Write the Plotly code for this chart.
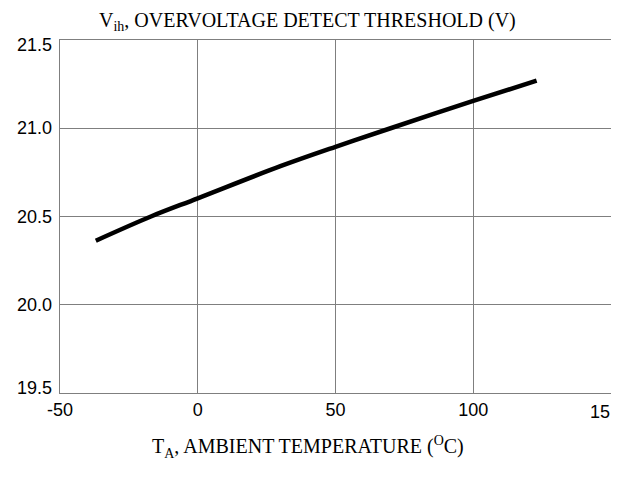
import plotly.graph_objects as go

temps = [-37, -17, 0, 30, 50, 70, 100, 123]
vih = [20.363, 20.50, 20.603, 20.785, 20.895, 21.00, 21.155, 21.27]

x_ticks = [-50, 0, 50, 100, 150]
x_tick_text = ["-50", "0", "50", "100", ""]
x_clipped_label = "15"
y_ticks = [19.5, 20.0, 20.5, 21.0, 21.5]
y_tick_text = ["19.5", "20.0", "20.5", "21.0", "21.5"]

fig = go.Figure()
fig.add_trace(go.Scatter(x=temps, y=vih, mode="lines",
                         line=dict(color="black", width=4.5, shape="spline", smoothing=1.0),
                         showlegend=False))

grid = "#7f7f7f"
serif = "Liberation Serif, Times New Roman, serif"
sans = "Liberation Sans, Arial"

annotations = [
    dict(text="V<sub>ih</sub>, OVERVOLTAGE DETECT THRESHOLD (V)", xref="paper", yref="paper",
         x=0.45, y=1.0, yshift=19, showarrow=False, xanchor="center", yanchor="middle",
         font=dict(family=serif, size=20, color="black")),
    dict(text="T<sub>A</sub>, AMBIENT TEMPERATURE (<sup>O</sup>C)", xref="paper", yref="paper",
         x=0.45, y=0, yshift=-54, showarrow=False, xanchor="center", yanchor="middle",
         font=dict(family=serif, size=20, color="black")),
    dict(text=x_clipped_label, xref="x", yref="paper", x=x_ticks[-1], y=0,
         xanchor="right", yanchor="top", xshift=1, yshift=-7, showarrow=False,
         font=dict(family=sans, size=18, color="black")),
]
for i, (v, t) in enumerate(zip(y_ticks, y_tick_text)):
    shift = -5 if i == len(y_ticks) - 1 else (5 if i == 0 else 0)
    annotations.append(dict(text=t, xref="paper", yref="y", x=0, y=v, xanchor="right",
                            yanchor="middle", xshift=-6, yshift=shift, showarrow=False,
                            font=dict(family=sans, size=18, color="black")))

fig.update_layout(
    width=611, height=471,
    margin=dict(l=52, r=8, t=32, b=86),
    paper_bgcolor="white", plot_bgcolor="white",
    font=dict(family=sans, size=18, color="black"),
    xaxis=dict(range=[-50, 150], tickvals=x_ticks, ticktext=x_tick_text,
               showgrid=True, gridcolor=grid, gridwidth=1, zeroline=False,
               showline=True, linecolor=grid, linewidth=1, mirror=True,
               ticks="", ticklen=0, automargin=False, ticklabeloverflow="allow"),
    yaxis=dict(range=[19.5, 21.5], tickvals=y_ticks, showticklabels=False,
               showgrid=True, gridcolor=grid, gridwidth=1, zeroline=False,
               showline=True, linecolor=grid, linewidth=1, mirror=True,
               ticks="", ticklen=0, automargin=False),
    annotations=annotations,
)

fig.write_html("out.html")
